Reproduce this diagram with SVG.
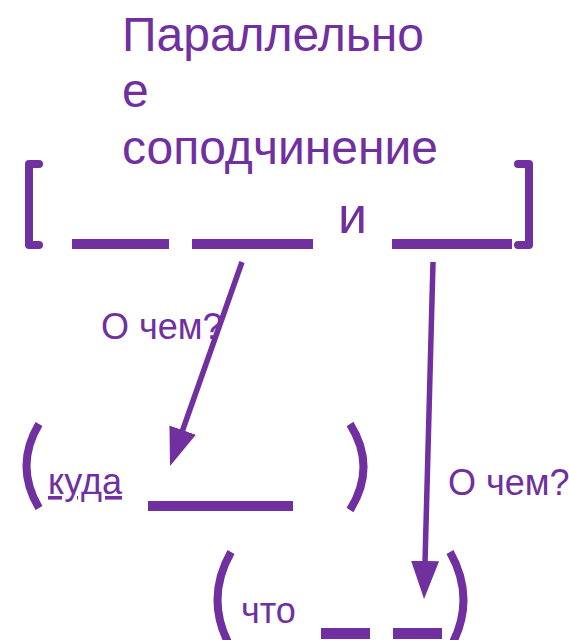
<svg xmlns="http://www.w3.org/2000/svg" width="569" height="640" viewBox="0 0 569 640">
  <style>
    .t { font-family: "Liberation Sans", Arial, sans-serif; fill: #7030A0; }
    .big { font-size: 48px; }
    .mid { font-size: 36px; }
    .ul { text-decoration: underline; text-decoration-skip-ink: none; }
    .brk { fill: none; stroke: #7030A0; stroke-width: 8; stroke-linecap: round; stroke-linejoin: round; }
    .par { fill: none; stroke: #7030A0; stroke-width: 8; stroke-linecap: butt; }
    .bar { fill: #7030A0; }
    .arr { fill: none; stroke: #7030A0; stroke-width: 5.5; }
  </style>
  <defs>
    <marker id="head" markerUnits="userSpaceOnUse" markerWidth="40" markerHeight="30" refX="2" refY="14" orient="auto">
      <path d="M 0 0 L 38 14 L 0 28 z" fill="#7030A0"/>
    </marker>
  </defs>
  <rect width="569" height="640" fill="#ffffff"/>

  <g id="title">
    <text class="t big" x="122" y="51">Параллельно</text>
    <text class="t big" x="122" y="107">е</text>
    <text class="t big" x="122" y="164">соподчинение</text>
  </g>

  <g id="main-clause">
    <path class="brk" d="M 39 164 H 29 V 245 H 39"/>
    <rect class="bar" x="72" y="239" width="97" height="10"/>
    <rect class="bar" x="192" y="239" width="121" height="10"/>
    <text class="t" style="font-size:52px" x="338" y="233">и</text>
    <rect class="bar" x="392" y="239" width="120" height="10"/>
    <path class="brk" d="M 518 164 H 529 V 245 H 518"/>
  </g>

  <g id="sub-clause-1">
    <path class="par" d="M 39 424 Q 14 466 39 508"/>
    <text class="t mid ul" x="48" y="494">куда</text>
    <rect class="bar" x="148" y="501" width="145" height="10"/>
    <path class="par" d="M 350 424 Q 377 467 350 510"/>
  </g>

  <g id="sub-clause-2">
    <path class="par" d="M 231 552 Q 204 600 231 648"/>
    <text class="t mid" x="241" y="623">что</text>
    <rect class="bar" x="321" y="628" width="49" height="11"/>
    <rect class="bar" x="393" y="628" width="49" height="11"/>
    <path class="par" d="M 450 552 Q 477 600 450 648"/>
  </g>

  <g id="connectors">
    <line class="arr" x1="242" y1="262" x2="182" y2="432" marker-end="url(#head)"/>
    <line class="arr" x1="433" y1="262" x2="425" y2="563" marker-end="url(#head)"/>
    <text class="t mid" x="101" y="339">О чем?</text>
    <text class="t mid" x="448" y="495">О чем?</text>
  </g>
</svg>
